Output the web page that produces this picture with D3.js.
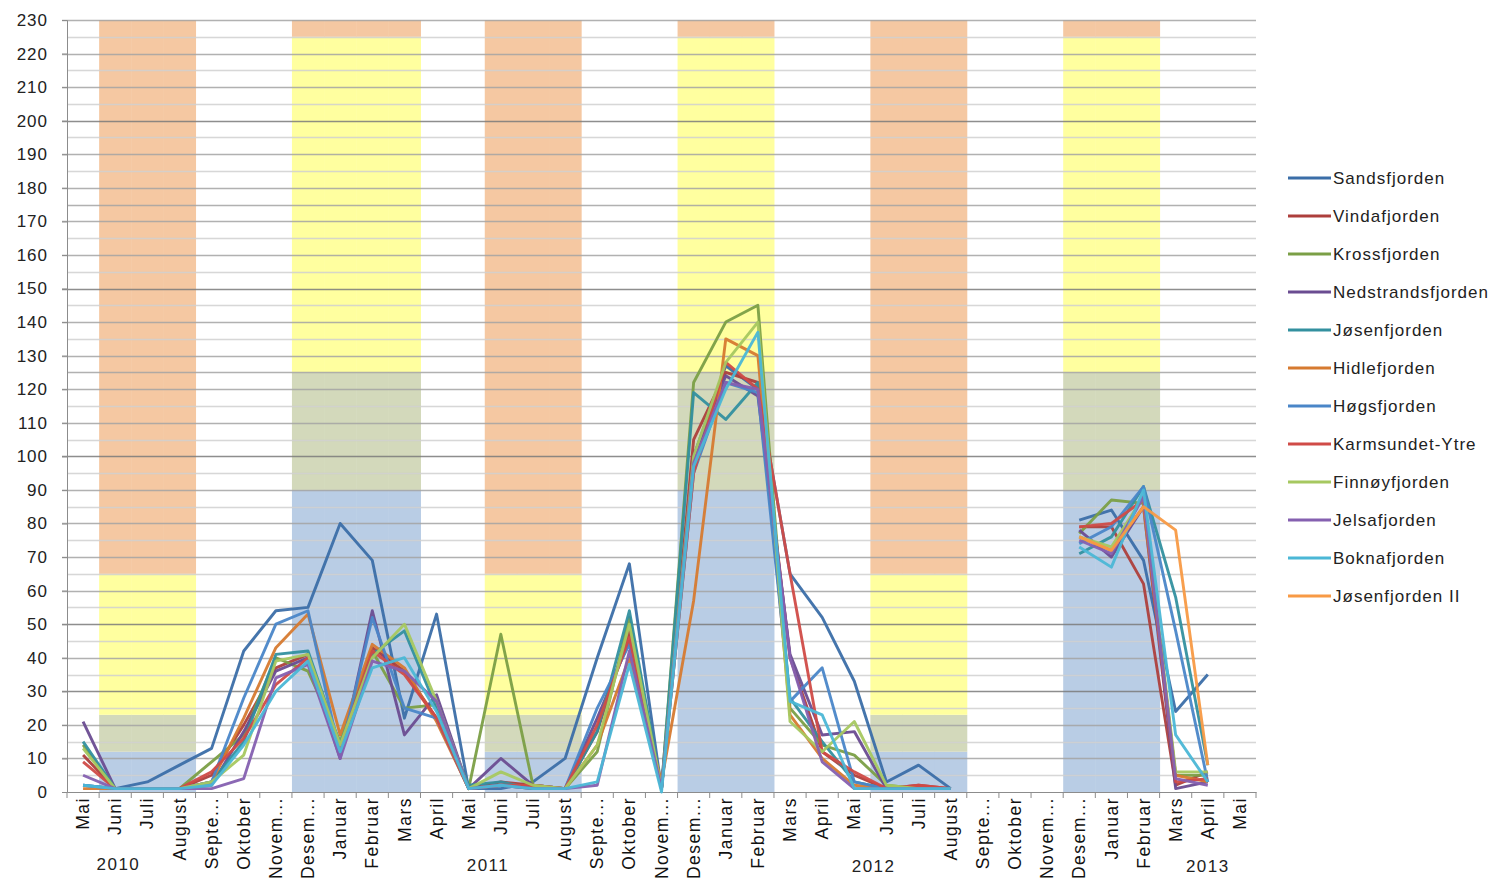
<!DOCTYPE html>
<html><head><meta charset="utf-8">
<script src="https://cdn.jsdelivr.net/npm/d3@7"></script>
<style>body{margin:0;background:#fff}svg{display:block}</style>
</head><body><svg id="c" width="1496" height="882"></svg>
<script>
const categories = ["Mai","Juni","Juli","August","Septe...","Oktober","Novem...","Desem...","Januar","Februar","Mars","April",
 "Mai","Juni","Juli","August","Septe...","Oktober","Novem...","Desem...","Januar","Februar","Mars","April",
 "Mai","Juni","Juli","August","Septe...","Oktober","Novem...","Desem...","Januar","Februar","Mars","April","Mai"];
const yearLabels = ["2010","2011","2012","2013"];
const yearAt = [1.1, 12.6, 24.6, 35];
const yTicks = d3.range(0, 231, 10);

// background classification bands (stacked): blue, green, yellow, salmon
const bandColors = ["#b9cde5","#d3d9bb","#ffff9f","#f5c8a2"];
const summerIdx = [1,2,3,13,14,15,25,26,27];
const summerStack = [12, 11, 42, 165];
const winterIdx = [7,8,9,10,19,20,21,31,32,33];
const winterStack = [90, 35, 100, 5];

const seriesNames = ["Sandsfjorden","Vindafjorden","Krossfjorden","Nedstrandsfjorden","Jøsenfjorden","Hidlefjorden","Høgsfjorden","Karmsundet-Ytre","Finnøyfjorden","Jelsafjorden","Boknafjorden","Jøsenfjorden II"];
const seriesColors = ["#3b6ea8","#ad3f3c","#7b9f46","#6a4c91","#33909f","#d67a30","#4a86c8","#d04b47","#a6c860","#8560b0","#4bb7d6","#f89a45"];
const N = null;
const sandsfjorden     = [2,1,3,8,13,42,54,55,80,69,22,53, 1,1,3,10,40,68,1,100,127,120,65,52, 33,3,8,1,N,N,N,81,84,69,24,35,N];
const vindafjorden     = [11,1,1,1,5,20,37,41,13,43,36,22, 1,3,2,1,18,48,1,105,125,122,40,12, 5,1,2,1,N,N,N,79,79,62,2,6,N];
const krossfjorden     = [14,1,1,1,9,17,40,36,15,42,25,26, 1,47,2,1,12,52,1,122,140,145,25,14, 11,2,1,1,N,N,N,77,87,86,5,5,N];
const nedstrandsfjorden= [21,1,1,1,2,18,36,40,10,54,17,29, 1,10,2,1,22,45,1,100,124,118,41,17, 18,1,1,1,N,N,N,78,70,85,1,3,N];
const josenfjorden     = [15,1,1,1,3,15,41,42,14,41,48,25, 2,3,1,1,18,54,1,119,111,122,28,15, 3,1,1,1,N,N,N,71,76,91,58,8,N];
const hidlefjorden     = [1,1,1,1,3,22,43,53,17,44,37,21, 1,2,1,1,14,40,3,57,135,130,23,10, 2,1,1,1,N,N,N,76,72,85,5,3,N];
const hogsfjorden      = [2,1,1,1,3,28,50,54,11,52,25,22, 1,2,1,1,25,44,1,95,122,119,27,37, 3,1,1,1,N,N,N,74,79,91,48,3,N];
const karmsundet       = [9,1,1,1,6,16,32,40,13,42,35,22, 1,2,2,1,20,46,1,95,128,120,65,12, 6,1,2,1,N,N,N,79,80,87,3,4,N];
const finnoyfjorden    = [13,1,1,1,3,11,39,41,14,40,50,27, 1,6,2,1,14,50,1,100,128,140,21,12, 21,2,1,1,N,N,N,76,73,88,6,6,N];
const jelsafjorden     = [5,1,1,1,1,4,34,38,10,39,36,27, 1,2,1,1,2,42,1,98,122,120,40,9, 1,1,1,1,N,N,N,75,71,88,4,2,N];
const boknafjorden     = [2,1,1,1,2,14,30,39,12,37,40,24, 1,2,1,1,3,38,0,97,120,137,27,23, 1,1,1,1,N,N,N,73,67,90,17,3,N];
const josenfjorden2    = [N,N,N,N,N,N,N,N,N,N,N,N, N,N,N,N,N,N,N,N,N,N,N,N, N,N,N,N,N,N,N,76,72,85,78,8,N];
const seriesValues = [sandsfjorden,vindafjorden,krossfjorden,nedstrandsfjorden,josenfjorden,hidlefjorden,hogsfjorden,karmsundet,finnoyfjorden,jelsafjorden,boknafjorden,josenfjorden2];

const svg = d3.select("#c");
const L = 67, R = 1256, T = 20, B = 792;
const x = d3.scaleBand().domain(d3.range(categories.length)).range([L, R]).padding(0);
const y = d3.scaleLinear().domain([0, 230]).range([B, T]);
const cx = i => x(i) + x.bandwidth() / 2;
const font = "'Liberation Sans', Arial, sans-serif";

// background bands
function drawStack(idxs, stack) {
  idxs.forEach(i => {
    let base = 0;
    stack.forEach((v, k) => {
      svg.append("rect").attr("x", x(i)).attr("width", x.bandwidth() + 0.5)
        .attr("y", y(base + v)).attr("height", y(base) - y(base + v))
        .attr("fill", bandColors[k]);
      base += v;
    });
  });
}
drawStack(summerIdx, summerStack);
drawStack(winterIdx, winterStack);

// gridlines
const g = svg.append("g");
d3.range(5, 231, 5).forEach(v => {
  const major = v % 10 === 0;
  const dark = [30, 50, 100, 150, 200].includes(v);
  const mid = [125, 175].includes(v);
  g.append("line").attr("x1", major ? L - 5 : L).attr("x2", R)
    .attr("y1", Math.round(y(v)) + 0.5).attr("y2", Math.round(y(v)) + 0.5)
    .attr("stroke", dark ? "#7a7a7a" : (major || mid ? "#a3a3a3" : "#d0d0d0"))
    .attr("stroke-opacity", 0.85)
    .attr("stroke-width", 1.3);
});

// y axis
const yAxis = svg.append("g").attr("transform", `translate(${L},0)`)
  .call(d3.axisLeft(y).tickValues(yTicks).tickSize(5).tickPadding(14));
yAxis.select(".domain").attr("stroke", "#8c8c8c");
yAxis.selectAll(".tick line").attr("stroke", "#8c8c8c");
yAxis.selectAll("text").attr("font-family", font).attr("font-size", 17).attr("letter-spacing", "1px").attr("fill", "#222");

// x axis
const xAxis = svg.append("g").attr("transform", `translate(0,${B})`)
  .call(d3.axisBottom(x).tickFormat(i => categories[i]).tickSize(0));
xAxis.select(".domain").attr("stroke", "#8c8c8c");
xAxis.selectAll(".tick text")
  .attr("font-family", font).attr("font-size", 17.5).attr("letter-spacing", "1.5px").attr("fill", "#111")
  .attr("transform", "rotate(-90)").attr("text-anchor", "end")
  .attr("x", -5).attr("y", 0).attr("dy", "0.35em");
// category separators
svg.append("g").selectAll("line").data(d3.range(categories.length + 1)).join("line")
  .attr("x1", i => i < categories.length ? x(i) : R).attr("x2", i => i < categories.length ? x(i) : R)
  .attr("y1", B).attr("y2", B + 6).attr("stroke", "#8c8c8c");

// year labels
svg.append("g").selectAll("text").data(yearLabels).join("text")
  .attr("x", (d, k) => cx(0) + yearAt[k] * x.bandwidth())
  .attr("y", (d, k) => 870 + k * 0.8)
  .attr("text-anchor", "middle").attr("font-family", font).attr("font-size", 17).attr("letter-spacing", "1.5px").attr("fill", "#222")
  .text(d => d);

// series lines
const line = d3.line().defined(d => d.v !== null).x(d => cx(d.i)).y(d => y(d.v));
seriesValues.forEach((vals, s) => {
  svg.append("path").datum(vals.map((v, i) => ({ i, v })))
    .attr("d", line).attr("fill", "none")
    .attr("stroke", seriesColors[s]).attr("stroke-width", 2.9)
    .attr("stroke-linejoin", "round").attr("stroke-opacity", 0.95);
});

// legend
const lg = svg.append("g");
seriesNames.forEach((name, s) => {
  const ly = 178 + s * 38;
  lg.append("line").attr("x1", 1288).attr("x2", 1331).attr("y1", ly).attr("y2", ly)
    .attr("stroke", seriesColors[s]).attr("stroke-width", 2.9);
  lg.append("text").attr("x", 1333).attr("y", ly).attr("dy", "0.35em")
    .attr("font-family", font).attr("font-size", 17).attr("letter-spacing", "1px").attr("fill", "#222").text(name);
});
</script></body></html>
